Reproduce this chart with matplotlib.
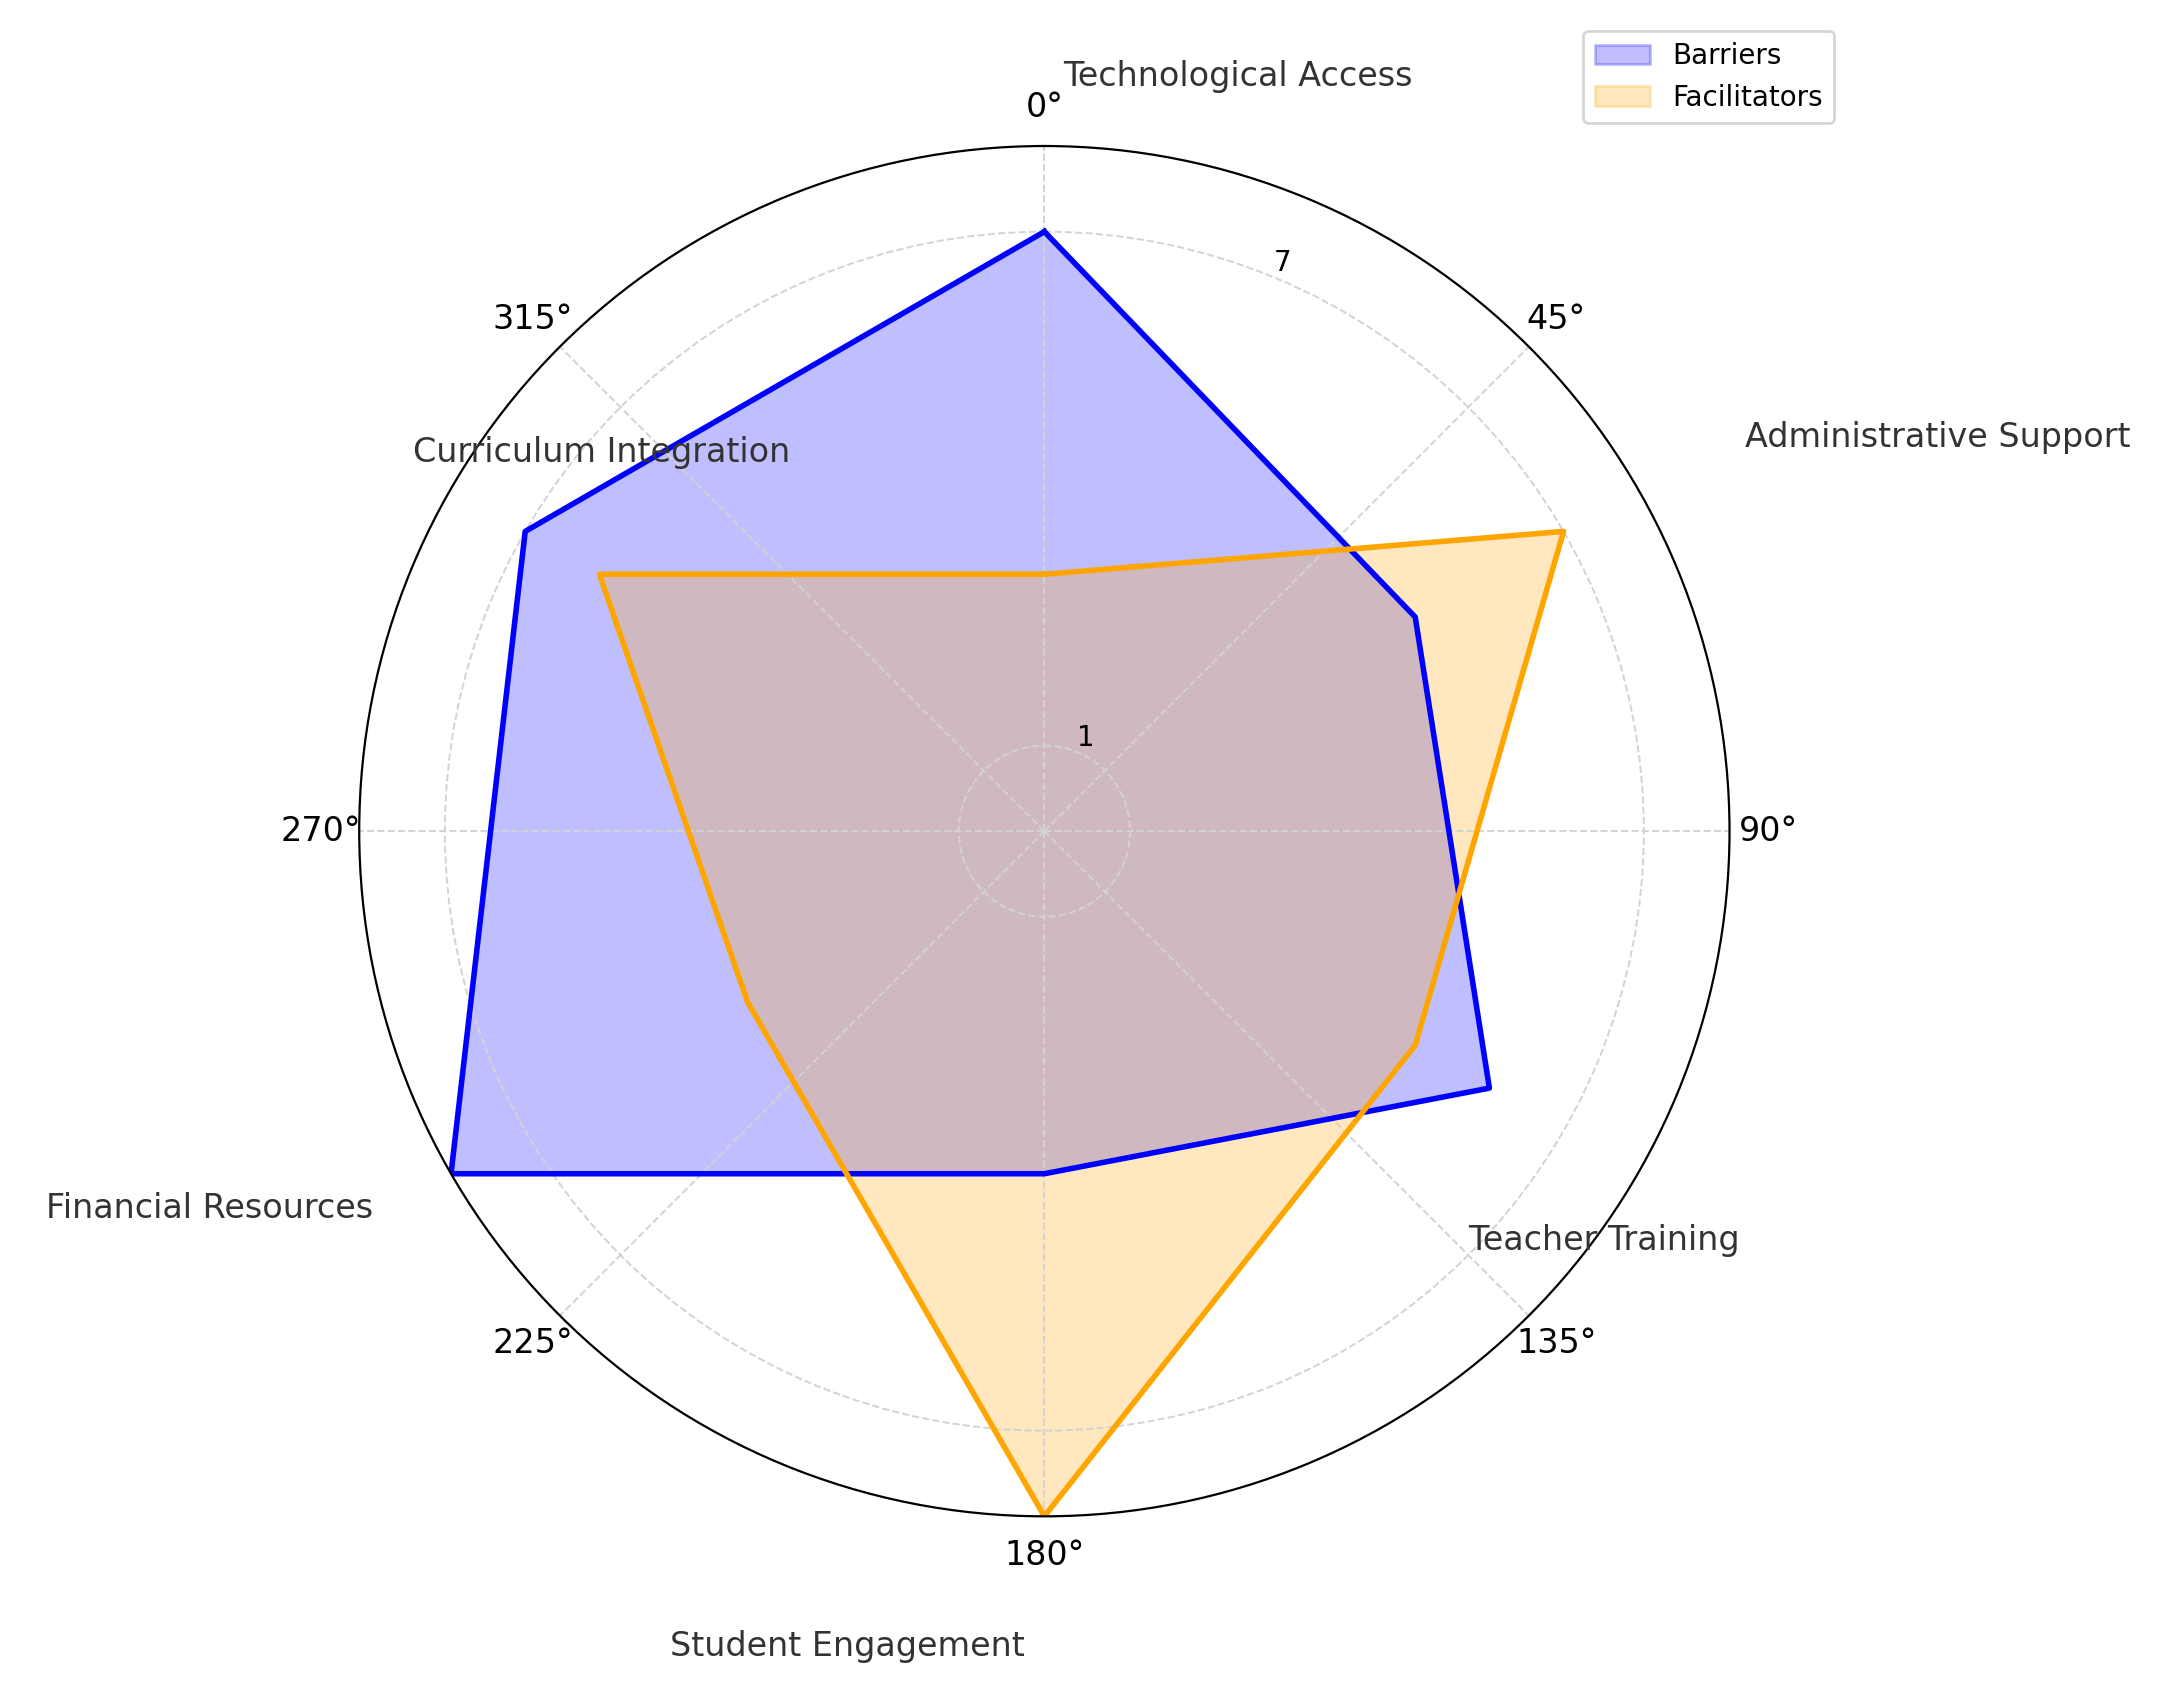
import numpy as np
import matplotlib.pyplot as plt

categories = ['Technological Access', 'Administrative Support', 'Teacher Training',
              'Student Engagement', 'Financial Resources', 'Curriculum Integration']
barriers = [7, 5, 6, 4, 8, 7]
facilitators = [3, 7, 5, 8, 4, 6]
# label placement (theta deg, r)
label_pos = [(14.4, 9.1), (66.2, 11.4), (126.2, 8.1), (193.6, 9.8), (245.7, 10.7), (310.5, 6.8)]

angles = np.arange(len(categories)) * 2 * np.pi / len(categories)
ang = np.append(angles, angles[0])

fig = plt.figure(figsize=(10.845, 8.49), dpi=200)
ax = fig.add_axes([0.1655, 0.107, 0.632, 0.807], projection='polar')
ax.set_theta_zero_location('N')
ax.set_theta_direction(-1)

b = barriers + barriers[:1]
f = facilitators + facilitators[:1]
ax.fill(ang, b, color='blue', alpha=0.25, label='Barriers')
ax.plot(ang, b, color='blue', lw=2)
ax.fill(ang, f, color='orange', alpha=0.25, label='Facilitators')
ax.plot(ang, f, color='orange', lw=2)

ax.set_ylim(0, 8)
ax.set_yticks([1, 7])
ax.set_yticklabels(['1', '7'], fontsize=10)
ax.set_rlabel_position(22.5)
ax.set_thetagrids(np.arange(0, 360, 45), [f'{d}°' for d in range(0, 360, 45)], fontsize=12)
ax.grid(color='lightgray', linestyle='--', linewidth=0.7)

for name, (th, r) in zip(categories, label_pos):
    ax.text(np.deg2rad(th), r, name, ha='center', va='center', fontsize=12,
            color='#333333', clip_on=False)

ax.legend(loc='upper right', bbox_to_anchor=(0.852, 0.99), bbox_transform=fig.transFigure,
          fontsize=10)

plt.savefig('out.png')
